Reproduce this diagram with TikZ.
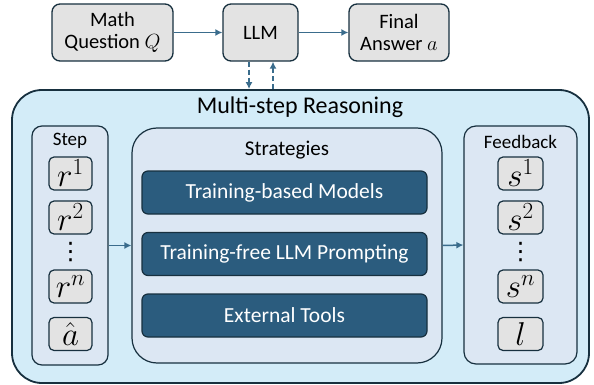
\RequirePackage{fix-cm}
\documentclass[tikz,border=0pt]{standalone}
\usepackage{fontspec}
\setmainfont{Carlito}
\newfontfamily\symfont{DejaVu Sans}
\usepackage{amsmath}
\usepackage{tikz}
\usetikzlibrary{positioning,arrows.meta}

\definecolor{edge}{HTML}{17303F}
\definecolor{arrowblue}{HTML}{3A6C8C}
\definecolor{outerfill}{HTML}{D3ECF8}
\definecolor{innerfill}{HTML}{DCE7F3}
\definecolor{greyfill}{HTML}{E3E3E3}
\definecolor{darkfill}{HTML}{2B5C7E}

\begin{document}
\begin{tikzpicture}[x=1pt,y=-1pt,
		topbox/.style={draw=edge, line width=1.3pt, fill=greyfill, rounded corners=8pt, align=center, font=\fontsize{20.5}{22}\selectfont},
		panel/.style={draw=edge, line width=1.2pt, fill=innerfill},
		item/.style={draw=edge, line width=1.2pt, fill=greyfill, rounded corners=5pt, minimum width=43pt, minimum height=33pt, inner sep=0pt, font=\fontsize{33}{34}\selectfont},
		dots/.style={inner sep=0pt, font=\symfont\fontsize{24}{24}\selectfont},
		strat/.style={draw=edge, line width=1.2pt, fill=darkfill, text=white, rounded corners=6pt, minimum width=285pt, minimum height=43pt, font=\fontsize{21.5}{23}\selectfont},
		flow/.style={draw=arrowblue, line width=1.5pt, -{Latex[length=7pt,width=7pt]}}]
		\useasboundingbox (0,0) rectangle (594,385);

		% top row
		\node[topbox, minimum width=121pt, minimum height=57pt] (question) at (112.5, 32.5) {Math\\Question $Q$};
		\node[topbox, minimum width=75pt, minimum height=57pt] (llm) at (260.5, 32.5) {LLM};
		\node[topbox, minimum width=100pt, minimum height=57pt] (answer) at (399, 32.5) {Final\\Answer $a$};
		\draw[flow] (question) -- (llm);
		\draw[flow] (llm) -- (answer);

		% reasoning block
		\node[draw=edge, line width=1.8pt, fill=outerfill, rounded corners=30pt, minimum width=577pt, minimum height=293pt] (reasoning) at (300.5, 236.5) {};
		\node[font=\fontsize{24}{26}\selectfont] (title) at (300, 107) {Multi-step Reasoning};
		\draw[flow, dash pattern=on 5pt off 3pt] ([xshift=-11.5pt]llm.south) -- ([xshift=-11.5pt]llm.south |- reasoning.north);
		\draw[flow, dash pattern=on 5pt off 3pt] ([xshift=12.5pt]llm.south |- reasoning.north) -- ([xshift=12.5pt]llm.south);

		% steps
		\node[panel, rounded corners=10pt, minimum width=76pt, minimum height=239pt] (step) at (70, 245.5) {};
		\node[font=\fontsize{19}{21}\selectfont] (steplabel) at (70, 141) {Step};
		\node[item] (r1) at (70.5, 173.5) {$r^1$};
		\node[item] (r2) at (70.5, 217.5) {$r^2$};
		\node[dots] (rdots) at (70.5, 252) {⋮};
		\node[item] (rn) at (70.5, 286.5) {$r^n$};
		\node[item] (ahat) at (70.5, 334) {$\hat{a}$};

		% strategies
		\node[panel, rounded corners=25pt, minimum width=310pt, minimum height=235pt] (strategies) at (287, 245.5) {};
		\node[font=\fontsize{21}{23}\selectfont] (stratlabel) at (287, 150) {Strategies};
		\node[strat] (trained) at (284.5, 192.5) {Training-based Models};
		\node[strat] (prompting) at (284.5, 254) {Training-free LLM Prompting};
		\node[strat] (tools) at (284.5, 315.5) {External Tools};

		% feedback
		\node[panel, rounded corners=12pt, minimum width=113pt, minimum height=238pt] (feedback) at (520.5, 245) {};
		\node[font=\fontsize{19}{21}\selectfont] (fblabel) at (520.5, 142) {Feedback};
		\node[item, minimum width=45pt] (s1) at (520.5, 173.5) {$s^1$};
		\node[item, minimum width=45pt] (s2) at (520.5, 217.5) {$s^2$};
		\node[dots] (sdots) at (520.5, 252) {⋮};
		\node[item, minimum width=45pt] (sn) at (520.5, 286.5) {$s^n$};
		\node[item, minimum width=45pt] (loss) at (520.5, 334) {$l$};

		\draw[flow] (step.east) -- (strategies.west);
		\draw[flow] (strategies.east) -- (feedback.west);
	\end{tikzpicture}
\end{document}
